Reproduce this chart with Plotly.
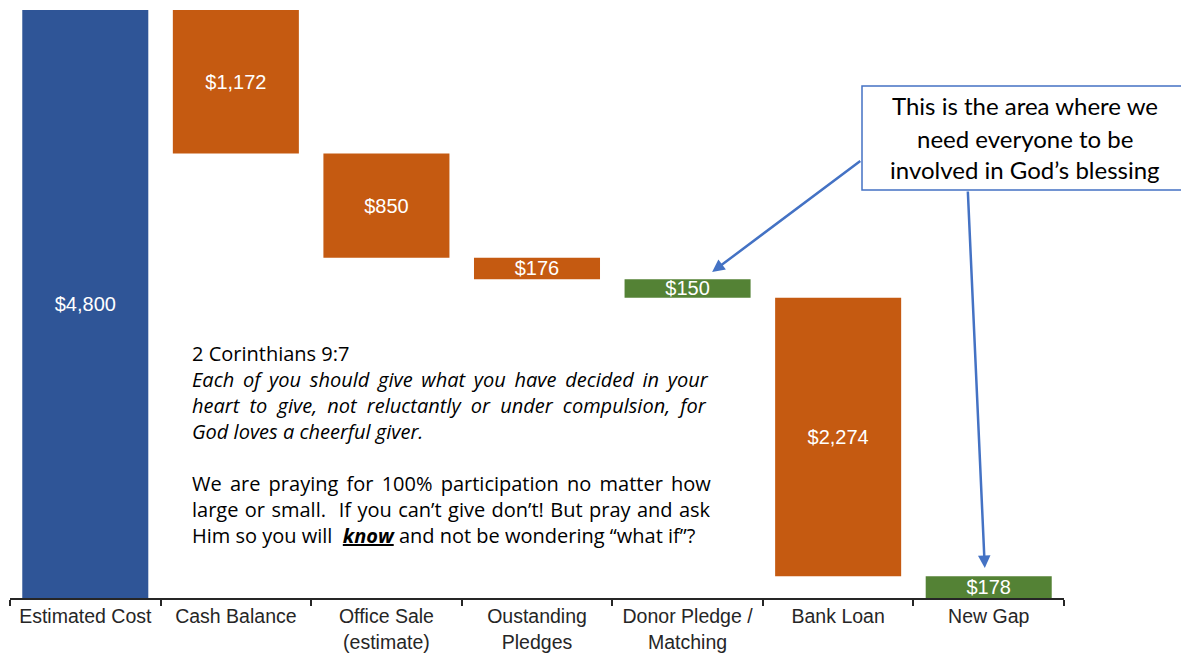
import plotly.graph_objects as go

categories = ["Estimated Cost", "Cash Balance", "Office Sale<br>(estimate)", "Oustanding<br>Pledges",
              "Donor Pledge /<br>Matching", "Bank Loan", "New Gap"]
amounts = [4800, 1172, 850, 176, 150, 2274, 178]
kinds = ["total", "decrease", "decrease", "decrease", "decrease", "decrease", "total"]
bar_colors = ["#2F5597", "#C55A11", "#C55A11", "#C55A11", "#548235", "#C55A11", "#548235"]
labels = ["$4,800", "$1,172", "$850", "$176", "$150", "$2,274", "$178"]

verse_lines = [
    "2 Corinthians 9:7",
    "<i>Each of you should give what you have decided in your</i>",
    "<i>heart to give, not reluctantly or under compulsion, for</i>",
    "<i>God loves a cheerful giver.</i>",
    "",
    "We are praying for 100% participation no matter how",
    "large or small.  If you can\u2019t give don\u2019t! But pray and ask",
    "Him so you will  <b><i><u>know</u></i></b> and not be wondering \u201cwhat if\u201d?",
]
# word spacing (px) per line to imitate the justified text of the reference
verse_word_spacing = [0, 3.5, 5.0, 0, 0, 3.0, 1.2, 0]

callout_lines = ["This is the area where we", "need everyone to be", "involved in God\u2019s blessing"]
callout_line_px = [105, 139, 170]

# compute bases for floating bars
bases = []
running = 0
for a, k in zip(amounts, kinds):
    if k == "total":
        bases.append(0)
        if running == 0:
            running = a
    else:
        running -= a
        bases.append(running)

# page-pixel -> paper helpers (plot area: x 10..1064, y 10..598 on the page)
def px_x(p):
    return (p - 10) / 1054

def px_y(p):
    return (598 - p) / 588

fig = go.Figure()
fig.add_trace(go.Bar(
    x=categories, y=amounts, base=bases,
    marker=dict(color=bar_colors, line=dict(width=0)),
    text=labels, textposition="inside", insidetextanchor="middle",
    constraintext="none",
    textfont=dict(family="Liberation Sans, Arial", size=20, color="white"),
    hoverinfo="skip",
))

verse_parts = []
for line, ws in zip(verse_lines, verse_word_spacing):
    verse_parts.append(f'<span style="word-spacing:{ws}px">{line}</span>' if ws else line)
fig.add_annotation(
    xref="paper", yref="paper", x=px_x(190), y=px_y(444),
    xanchor="left", yanchor="middle", align="left", showarrow=False,
    text="<br>".join(verse_parts), font=dict(family="Open Sans", size=20, color="black"),
)

# callout box
fig.add_shape(type="rect", xref="paper", yref="paper",
              x0=px_x(862), x1=px_x(1187), y0=px_y(190), y1=px_y(86),
              line=dict(color="#4472C4", width=1.5), fillcolor="white", layer="above")
for line, py in zip(callout_lines, callout_line_px):
    fig.add_annotation(
        xref="paper", yref="paper", x=px_x(1025), y=px_y(py),
        xanchor="center", yanchor="middle", align="center", showarrow=False,
        text=line, font=dict(family="Lato", size=24, color="black"),
    )

# arrows
fig.add_annotation(x=4.163, y=2661, ax=5.157, ay=3576, xref="x", yref="y", axref="x", ayref="y",
                   text="", showarrow=True, arrowhead=2, arrowsize=1, arrowwidth=2.5,
                   arrowcolor="#4472C4")
fig.add_annotation(x=5.974, y=245, ax=5.861, ay=3331, xref="x", yref="y", axref="x", ayref="y",
                   text="", showarrow=True, arrowhead=2, arrowsize=1, arrowwidth=2.5,
                   arrowcolor="#4472C4")

fig.update_layout(
    width=1181, height=646,
    margin=dict(l=2, r=125, t=2, b=56),
    plot_bgcolor="white", paper_bgcolor="white",
    bargap=0.163, showlegend=False,
    xaxis=dict(showline=True, linecolor="#262626", linewidth=2, ticks="outside",
               tickson="boundaries", ticklen=6, tickwidth=2, tickcolor="#262626",
               tickfont=dict(family="Liberation Sans, Arial", size=19.5, color="#262626"),
               showgrid=False, zeroline=False, fixedrange=True),
    yaxis=dict(range=[0, 4800], visible=False, showgrid=False, zeroline=False),
)

fig.write_html("out.html")
